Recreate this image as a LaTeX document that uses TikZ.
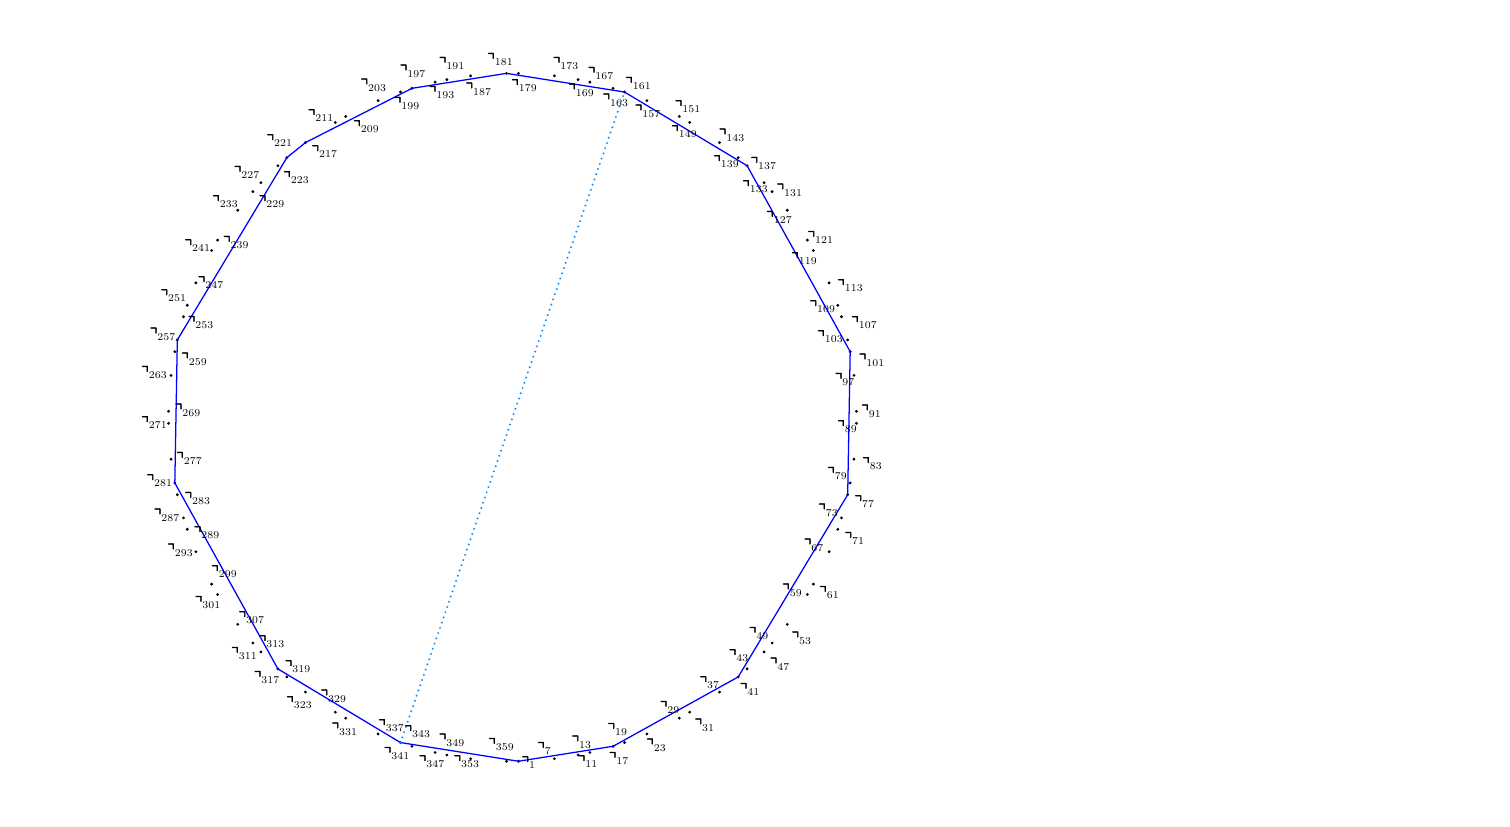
\documentclass[tikz,border=0pt]{standalone}
\usepackage{fontspec}
\newfontfamily\cornfont[FakeBold=2.2,Scale=1.35]{latinmodern-math.otf}
\newsavebox\cornbox
\newcommand{\corn}{\sbox\cornbox{\cornfont ⌝}\raisebox{\dimexpr4.8pt-\ht\cornbox\relax}{\usebox\cornbox}}
\newcommand{\subn}[1]{\smash{\raisebox{2.4pt}{$\scriptstyle #1$}}}
\begin{document}
\begin{tikzpicture}[x=0.671pt,y=-0.671pt,
  dot/.style={circle,fill=black,inner sep=0pt,minimum size=2.1pt},
  lab/.style={inner sep=0pt,anchor=north west,text=black},
  poly/.style={draw=blue,line width=0.85pt,line join=round},
  diam/.style={draw={rgb,255:red,20;green,145;blue,250},line width=1.5pt,line cap=round,dash pattern=on 0pt off 3.7pt}]
\useasboundingbox (0,0) rectangle (1510,826);
\foreach \n in {1,7,11,13,17,19,23,29,31,37,41,43,47,49,53,59,61,67,71,73,77,79,83,89,91,97,101,103,107,109,113,119,121,127,131,133,137,139,143,149,151,157,161,163,167,169,173,179,181,187,191,193,197,199,203,209,211,217,221,223,227,229,233,239,241,247,251,253,257,259,263,269,271,277,281,283,287,289,293,299,301,307,311,313,317,319,323,329,331,337,341,343,347,349,353,359}
  \node[dot] (p\n) at ({512.5+344*sin(\n)},{417.3+344*cos(\n)}) {};
\draw[poly] (p1.center) -- (p17.center) -- (p41.center) -- (p77.center) -- (p101.center) -- (p137.center) -- (p161.center) -- (p181.center) -- (p197.center) -- (p217.center) -- (p221.center) -- (p257.center) -- (p281.center) -- (p317.center) -- (p341.center) -- cycle;
\draw[diam] (p341.center) -- (p161.center);
\foreach \n/\x/\y in {1/521/756,7/536.7/741.7,11/577.3/755,13/571/735.3,17/608.3/751.7,19/607/722.7,23/645.7/738.3,29/659.3/700.7,31/694/718.3,37/699/676,41/739.3/682.7,43/728.3/649,47/769.3/657.3,49/748.3/626.7,53/791/631.3,59/781.7/583.3,61/818.7/585.7,67/803.3/538.3,71/844/531.7,73/817.7/503.3,77/854/495,79/826.7/466.7,83/861.7/457,89/836.7/420,91/860.7/404.3,97/834.3/372.7,101/858.3/353.3,103/816.7/330,107/850.7/316,109/809/300,113/836.7/279,119/790.7/252,121/807/230.8,127/765.7/210.7,131/776/183.3,133/741.7/180,137/750/156.7,139/712.7/155,143/718.3/128.3,149/670.7/125,151/674.3/100,157/634.3/104.3,161/624.7/76.7,163/602/93.3,167/587.3/66.7,169/567.7/83.3,173/552.3/56.7,179/510.7/79,181/486.7/52.7,187/465/82.3,191/438.3/56.7,193/428.3/85.7,197/399.3/64.3,199/393.3/96.7,203/360/78.3,209/352.7/120,211/307.3/109,217/311/145,221/266/134,223/282.7/171,227/233.3/165.7,229/258.3/195,233/211.7/195,239/222.5/235.7,241/184/239,247/197.3/276,251/160/289,253/187.3/315.7,257/149.3/327.3,259/180.7/352.3,263/140.7/365.7,269/174.3/403.3,271/140.7/416,277/175.7/451.7,281/146/474,283/184/491.7,287/153.3/508.3,289/193.3/526,293/166.7/543.3,299/210.7/565,301/194.3/595.7,307/238/611,311/230.7/646.7,313/258.3/635,317/253.3/670.7,319/284.3/660,323/285.7/696,329/320/689.3,331/331/722.3,337/377.7/719,341/383.3/746.7,343/404/725,347/418.3/755,349/438.3/733.3,353/453/755,359/487.7/737.7}
  \node[lab] (l\n) at (\x,\y) {$\mbox{\corn}_{\subn{\n}}$};
\end{tikzpicture}
\end{document}
